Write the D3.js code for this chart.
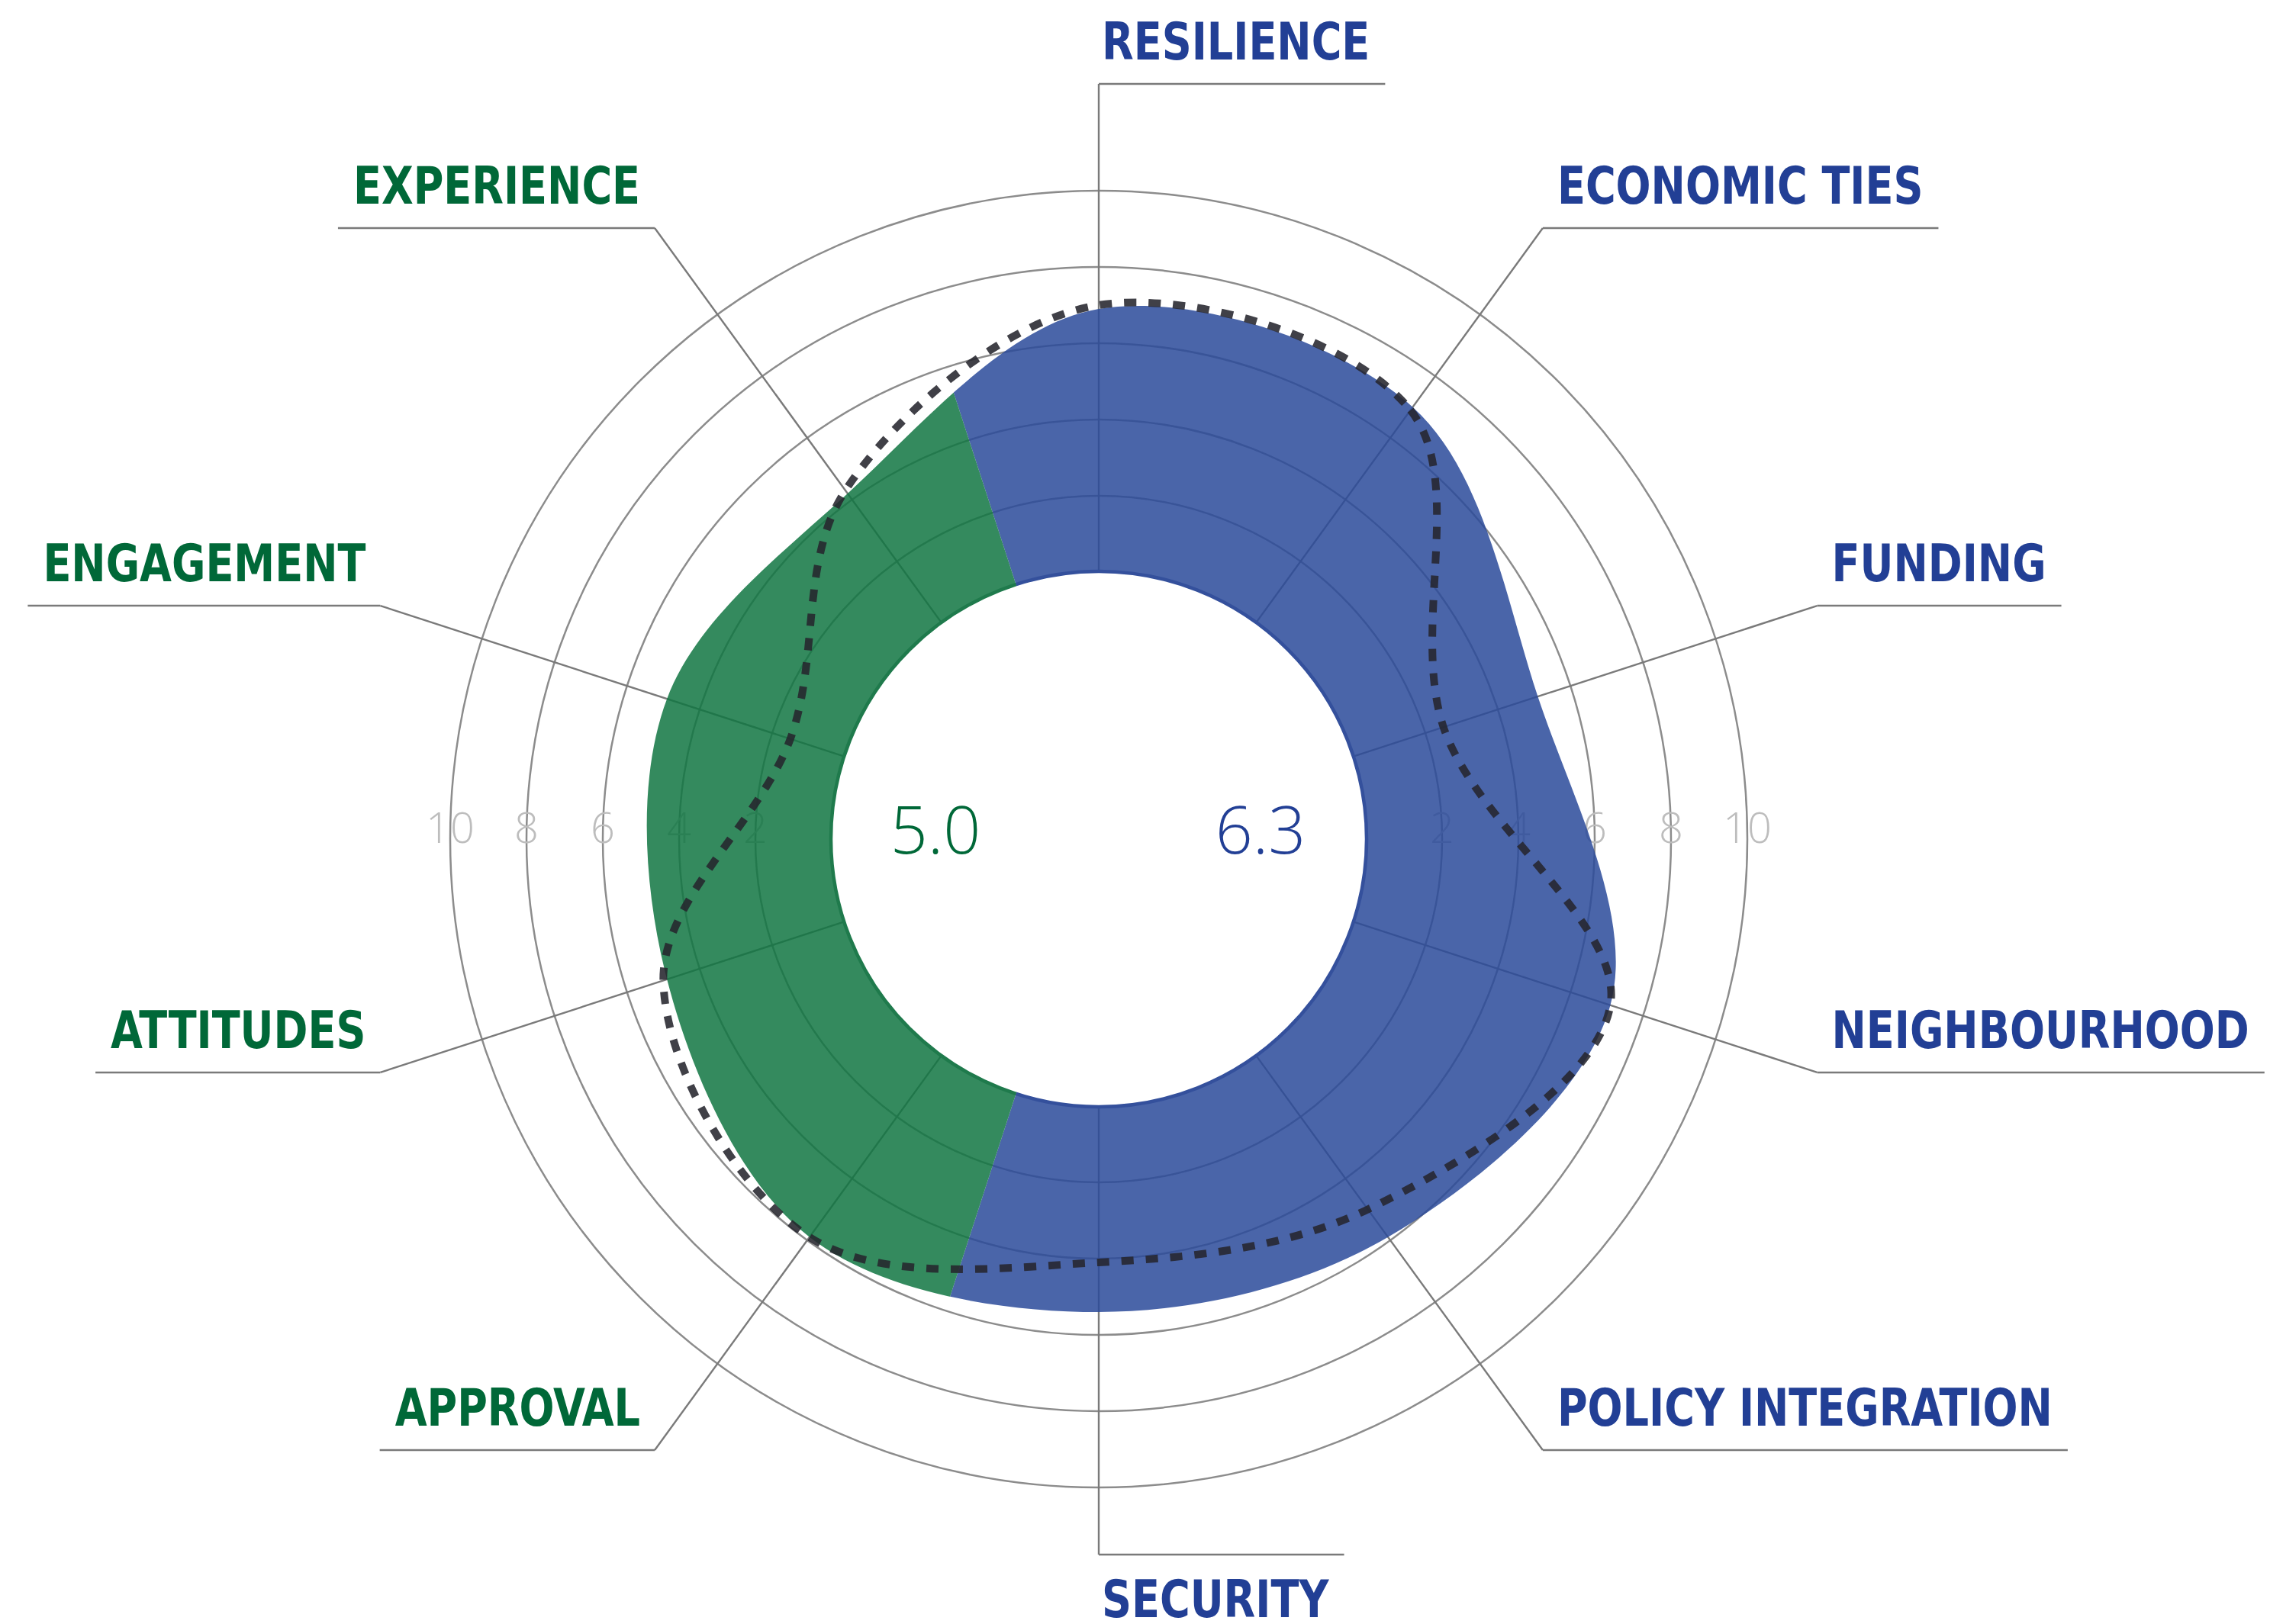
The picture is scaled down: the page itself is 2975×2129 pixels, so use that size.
<!DOCTYPE html>
<html>
<head>
<meta charset="utf-8">
<script src="https://cdn.jsdelivr.net/npm/d3@7"></script>
<style>
  html, body { margin: 0; padding: 0; background: #ffffff; }
  svg { display: block; }
</style>
</head>
<body>
<svg id="chart" width="2975" height="2129"></svg>
<script>
// ---------------- DATA ----------------
const categories = ["RESILIENCE", "ECONOMIC TIES", "FUNDING", "NEIGHBOURHOOD", "POLICY INTEGRATION",
                    "SECURITY", "APPROVAL", "ATTITUDES", "ENGAGEMENT", "EXPERIENCE"];
const categoryGroup = [0, 0, 0, 0, 0, 0, 1, 1, 1, 1];          // 0 = blue group, 1 = green group
const scoreValues = [6.9, 7.0, 5.1, 7.1, 5.9, 5.4, 5.9, 4.9, 4.9, 4.2];      // filled shape
const benchmarkValues = [7.0, 6.9, 2.5, 7.1, 5.0, 4.1, 5.9, 5.0, 1.5, 4.3];  // dotted line
const groupScoreLabels = ["6.3", "5.0"];
const tickValues = [2, 4, 6, 8, 10];
const tickLabels = ["2", "4", "6", "8", "10"];

// ---------------- STYLE / LAYOUT ----------------
const W = 2975, H = 2129;
const cx = 1440, cy = 1100;
const groupFill = ["#2a4a9a", "#107542"];
const groupText = ["#223f95", "#006838"];
const groupEdge = ["#34509c", "#1f7a4c"];
const fillOpacity = 0.85;

const svg = d3.select("#chart");
const g = svg.append("g").attr("transform", `translate(${cx},${cy})`);

const n = categories.length;
const angleOf = i => i * 2 * Math.PI / n;
const r = d3.scaleLinear().domain([0, 10]).range([350, 850]);
const r0 = r(0);

// grid rings
g.append("g").selectAll("circle").data(tickValues).join("circle")
  .attr("r", d => r(d))
  .attr("fill", "none")
  .attr("stroke", "#8c8c8c")
  .attr("stroke-width", 2.5);

// spokes (from inner circle to label elbow)
const elbowR = i => (Math.abs(Math.cos(angleOf(i)) + 1) < 1e-6) ? 938 : 990;
const pt = (rad, a) => [rad * Math.sin(a), -rad * Math.cos(a)];
g.append("g").selectAll("line").data(categories).join("line")
  .attr("x1", (d, i) => pt(r0, angleOf(i))[0])
  .attr("y1", (d, i) => pt(r0, angleOf(i))[1])
  .attr("x2", (d, i) => pt(elbowR(i), angleOf(i))[0])
  .attr("y2", (d, i) => pt(elbowR(i), angleOf(i))[1])
  .attr("stroke", "#7a7a7a")
  .attr("stroke-width", 2.4);

// tick labels on both sides
const tickFont = "'Open Sans', 'Noto Sans', sans-serif";
const tg = g.append("g");
[-1, 1].forEach(side => {
  tg.selectAll(null).data(tickValues).join("text")
    .attr("x", d => side * r(d))
    .attr("y", 5)
    .attr("text-anchor", "middle")
    .attr("font-family", tickFont)
    .attr("font-weight", 300)
    .attr("font-size", 56)
    .attr("fill", "#bdbdbd")
    .text((d, i) => tickLabels[i]);
});

// clip paths for the group sectors
const defs = svg.append("defs");
const half = Math.PI / n;
const groupRanges = [0, 1].map(gi => {
  const idx = categoryGroup.map((c, i) => c === gi ? i : -1).filter(i => i >= 0);
  const first = idx[0], last = idx[idx.length - 1];
  return [angleOf(first) - half, angleOf(last) + half];
});
const sectorArc = d3.arc().innerRadius(0).outerRadius(1200);
groupRanges.forEach((rg, gi) => {
  defs.append("clipPath").attr("id", "clip" + gi)
    .append("path")
    .attr("d", sectorArc({startAngle: rg[0], endAngle: rg[1]}));
});

// filled annulus shape
const radial = d3.lineRadial()
  .angle((d, i) => angleOf(i))
  .radius(d => r(d))
  .curve(d3.curveCatmullRomClosed);
const holePath = `M0,${-r0}A${r0},${r0} 0 1,0 0,${r0}A${r0},${r0} 0 1,0 0,${-r0}Z`;
const shapePath = radial(scoreValues) + holePath;

[0, 1].forEach(gi => {
  g.append("path")
    .attr("d", shapePath)
    .attr("fill-rule", "evenodd")
    .attr("fill", groupFill[gi])
    .attr("fill-opacity", fillOpacity)
    .attr("clip-path", `url(#clip${gi})`);
  g.append("circle")
    .attr("r", r0 + 1)
    .attr("fill", "none")
    .attr("stroke", groupEdge[gi])
    .attr("stroke-width", 4.5)
    .attr("clip-path", `url(#clip${gi})`);
});

// dotted benchmark line
g.append("path")
  .attr("d", radial(benchmarkValues))
  .attr("fill", "none")
  .attr("stroke", "#26262d")
  .attr("stroke-opacity", 0.88)
  .attr("stroke-width", 10)
  .attr("stroke-dasharray", "16 16");

// group scores in the centre
const scoreX = [212, -214];
[0, 1].forEach(gi => {
  g.append("text")
    .attr("x", scoreX[gi])
    .attr("y", 19)
    .attr("text-anchor", "middle")
    .attr("font-family", tickFont)
    .attr("font-weight", 300)
    .attr("font-size", 86)
    .attr("fill", groupText[gi])
    .text(groupScoreLabels[gi]);
});

// category labels with leader lines
const labelFont = "'DejaVu Sans Condensed', 'Liberation Sans Narrow', 'Roboto', sans-serif";
const squeeze = 0.885;
const lg = g.append("g");
categories.forEach((name, i) => {
  const a = angleOf(i);
  const [ex, ey] = pt(elbowR(i), a);
  const vertical = Math.abs(Math.sin(a)) < 1e-6;
  const right = ex > -1;
  const below = Math.cos(a) < -0.99;
  const gap = vertical ? 4 : 19;
  const tx = right ? ex + gap : ex - gap;
  const ty = below ? ey + 82 : ey - 32;
  const t = lg.append("text")
    .attr("transform", `translate(${tx},${ty}) scale(${squeeze},1)`)
    .attr("text-anchor", right ? "start" : "end")
    .attr("font-family", labelFont)
    .attr("font-weight", 700)
    .attr("font-size", 68)
    .attr("fill", groupText[categoryGroup[i]])
    .text(name);
  const w = t.node().getComputedTextLength() * squeeze;
  const endX = right ? tx + w + 20 : tx - w - 20;
  lg.append("line")
    .attr("x1", ex).attr("y1", ey)
    .attr("x2", endX).attr("y2", ey)
    .attr("stroke", "#7a7a7a")
    .attr("stroke-width", 2.4);
});
</script>
</body>
</html>
